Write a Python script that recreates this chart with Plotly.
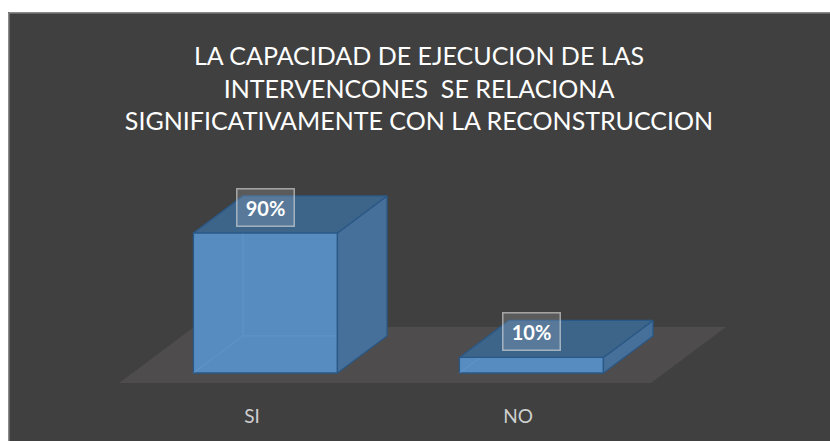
import plotly.graph_objects as go

# ---- data ----
categories = ["SI", "NO"]
values = [90, 10]
value_labels = ["90%", "10%"]
title_lines = [
    "LA CAPACIDAD DE EJECUCION DE LAS",
    "INTERVENCONES\u00a0 SE RELACIONA",
    "SIGNIFICATIVAMENTE CON LA RECONSTRUCCION",
]

# ---- figure / 3D projection settings (oblique) ----
W, H = 830, 441
MB = 38                      # bottom margin (category labels)
PLOT_H = H - MB
PX_PER_SLOT = 266.0          # pixels per category slot
PX_PER_UNIT = 1.556          # pixels per percentage point
X0_PX = 252.0                # pixel of first category at floor front
Y0_PX = 383.0                # pixel of value 0 at floor front
DEPTH_PX_X, DEPTH_PX_Y = 75.0, 56.0
DX = DEPTH_PX_X / PX_PER_SLOT        # category units per full depth
DY = DEPTH_PX_Y / PX_PER_UNIT        # value units per full depth
HALF_W = 0.2707                      # half bar width (category units)
ZF, ZB = 0.179, 0.84                 # bar depth span (fraction of floor depth)
FRAME_X, FRAME_Y = 8.75, 12.75       # chart-area border position (px)

x_range = [-X0_PX / PX_PER_SLOT, (W - X0_PX) / PX_PER_SLOT]
y_range = [(Y0_PX - PLOT_H) / PX_PER_UNIT, Y0_PX / PX_PER_UNIT]

FONT = "Lato, 'Open Sans', sans-serif"


def proj(c, v, z):
    return c + z * DX, v + z * DY


def poly(points, fill, line_color, name):
    xs, ys = [], []
    for c, v, z in points + [points[0]]:
        px, py = proj(c, v, z)
        xs.append(px)
        ys.append(py)
    return go.Scatter(x=xs, y=ys, mode="lines", fill="toself", fillcolor=fill,
                      line=dict(color=line_color, width=1.3), hoverinfo="skip",
                      showlegend=False, name=name)


fig = go.Figure()

# floor
n = len(categories)
floor = [(-0.5, 0, 0), (n - 0.5, 0, 0), (n - 0.5, 0, 1), (-0.5, 0, 1)]
fig.add_trace(poly(floor, "#4e4c4c", "rgba(0,0,0,0)", "floor"))

FRONT = "#578cc0"
SIDE = "#46709a"
TOP = "#3d6489"
EDGE = "#2a5886"

for i, (cat, val) in enumerate(zip(categories, values)):
    c = i
    l, r = c - HALF_W, c + HALF_W
    front = [(l, 0, ZF), (r, 0, ZF), (r, val, ZF), (l, val, ZF)]
    side = [(r, 0, ZF), (r, 0, ZB), (r, val, ZB), (r, val, ZF)]
    top = [(l, val, ZF), (r, val, ZF), (r, val, ZB), (l, val, ZB)]
    fig.add_trace(poly(front, FRONT, EDGE, cat))
    # faint hidden edges seen through the translucent bar
    hx, hy = [], []
    for seg in [[(l, 0, ZF), (l, 0, ZB), (r, 0, ZB)], [(l, 0, ZB), (l, val, ZB)]]:
        for p in seg:
            px, py = proj(*p)
            hx.append(px)
            hy.append(py)
        hx.append(None)
        hy.append(None)
    fig.add_trace(go.Scatter(x=hx, y=hy, mode="lines",
                             line=dict(color="rgba(110,160,215,0.45)", width=1),
                             hoverinfo="skip", showlegend=False))
    fig.add_trace(poly(side, SIDE, EDGE, cat))
    fig.add_trace(poly(top, TOP, EDGE, cat))

    lx, _ = proj(c, val, ZF)
    _, ly = proj(c, val, (ZF + ZB) / 2)
    fig.add_annotation(x=lx, y=ly, yshift=7, text="<b>%s</b>" % value_labels[i],
                       showarrow=False, font=dict(family=FONT, size=20, color="#ffffff"),
                       bgcolor="rgba(255,255,255,0.14)",
                       bordercolor="rgba(225,225,225,0.6)", borderwidth=1.5,
                       width=56, height=36, borderpad=0, xanchor="center", yanchor="middle")

# chart frame (white page strips at top/left, grey border on left/top)
top_y = 1 - FRAME_Y / PLOT_H
left_x = FRAME_X / W
fig.add_shape(type="rect", xref="paper", yref="paper", x0=-0.01, x1=1.01,
              y0=1 - (FRAME_Y - 0.75) / PLOT_H, y1=1.01, fillcolor="#ffffff",
              line_width=0, layer="below")
fig.add_shape(type="rect", xref="paper", yref="paper", x0=-0.01, x1=(FRAME_X - 0.75) / W,
              y0=-0.2, y1=1.01, fillcolor="#ffffff", line_width=0, layer="below")
fig.add_shape(type="line", xref="paper", yref="paper", x0=left_x, x1=1.0,
              y0=top_y, y1=top_y, line=dict(color="#8a8a8a", width=1.5), layer="below")
fig.add_shape(type="line", xref="paper", yref="paper", x0=left_x, x1=left_x,
              y0=-0.2, y1=top_y, line=dict(color="#8a8a8a", width=1.5), layer="below")

fig.update_layout(
    width=W, height=H,
    margin=dict(l=0, r=0, t=0, b=MB),
    paper_bgcolor="#404040",
    plot_bgcolor="rgba(0,0,0,0)",
    title=dict(text="<br>".join(title_lines), x=419 / W, xanchor="center",
               y=1 - 65 / H, yanchor="middle", yref="container",
               font=dict(family=FONT, size=25, color="#ffffff")),
    xaxis=dict(range=x_range, tickvals=list(range(n)), ticktext=categories,
               showgrid=False, zeroline=False, showline=False, ticks="",
               tickfont=dict(family=FONT, size=19, color="#cfcfcf"),
               fixedrange=True),
    yaxis=dict(range=y_range, showgrid=False, zeroline=False, showline=False,
               showticklabels=False, ticks="", fixedrange=True),
    showlegend=False,
)

fig.write_html(
    "out.html",
    config={"displayModeBar": False},
    post_script="document.documentElement.style.overflow='hidden';"
                "document.body.style.overflow='hidden';"
                "document.body.style.margin='0';",
)
